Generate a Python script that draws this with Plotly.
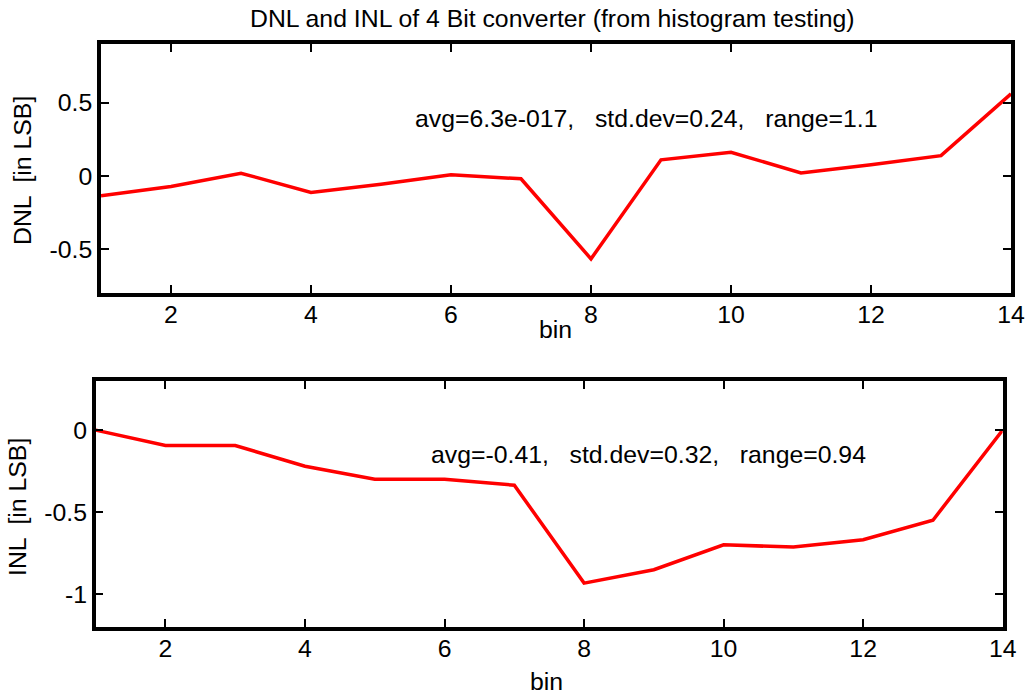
import plotly.graph_objects as go

# Histogram-test results for a 4 bit converter
bins = list(range(1, 15))
dnl = [-0.136, -0.073, 0.018, -0.113, -0.057, 0.007, -0.02,
       -0.567, 0.109, 0.161, 0.02, 0.075, 0.138, 0.56]
inl = [0.0, -0.094, -0.094, -0.22, -0.30, -0.30, -0.336,
       -0.934, -0.852, -0.70, -0.714, -0.669, -0.55, 0.0]

x_ticks = [2, 4, 6, 8, 10, 12, 14]
dnl_ticks = [0.5, 0, -0.5]
dnl_ticktext = ["0.5", "0", "-0.5"]
inl_ticks = [0, -0.5, -1]
inl_ticktext = ["0", "-0.5", "-1"]

title_text = "DNL and INL of 4 Bit converter (from histogram testing)"
sp = "\u00a0\u00a0\u00a0"
dnl_stats = f"avg=6.3e-017,{sp}std.dev=0.24,{sp}range=1.1"
inl_stats = f"avg=-0.41,{sp}std.dev=0.32,{sp}range=0.94"

W, H = 1028, 697
FONT = "Liberation Sans, Arial, sans-serif"
FS = 24.8

fig = go.Figure()
fig.add_trace(go.Scatter(x=bins, y=dnl, mode="lines",
                         line=dict(color="#ff0000", width=3.5),
                         xaxis="x", yaxis="y", showlegend=False))
fig.add_trace(go.Scatter(x=bins, y=inl, mode="lines",
                         line=dict(color="#ff0000", width=3.5),
                         xaxis="x2", yaxis="y2", showlegend=False))

def px_x(v):
    return v / W

def px_y(v):
    return 1 - v / H

axis_common = dict(
    showline=True, linecolor="black", linewidth=3.5, mirror="allticks",
    ticks="inside", ticklen=8, tickwidth=2, tickcolor="black",
    showgrid=False, zeroline=False, automargin=False,
    tickfont=dict(family=FONT, size=FS, color="black"),
)

fig.update_layout(
    template="none",
    width=W, height=H, autosize=False,
    margin=dict(l=0, r=0, t=0, b=0, pad=0),
    paper_bgcolor="white", plot_bgcolor="white",
    font=dict(family=FONT, size=FS, color="black"),
    xaxis=dict(domain=[px_x(101), px_x(1011)], range=[1, 14],
               tickvals=x_ticks, anchor="y", ticklabelstandoff=-4, **axis_common),
    yaxis=dict(domain=[px_y(293), px_y(44)], range=[-0.8, 0.9],
               tickvals=dnl_ticks, ticktext=dnl_ticktext, anchor="x", **axis_common),
    xaxis2=dict(domain=[px_x(95.7), px_x(1002.7)], range=[1, 14],
                tickvals=x_ticks, anchor="y2", ticklabelstandoff=-3, **axis_common),
    yaxis2=dict(domain=[px_y(626.7), px_y(381)], range=[-1.2, 0.3],
                tickvals=inl_ticks, ticktext=inl_ticktext, anchor="x2", **axis_common),
    annotations=[
        dict(text=title_text, xref="paper", yref="paper",
             x=px_x(552), y=px_y(19), xanchor="center", yanchor="middle",
             showarrow=False, font=dict(size=FS)),
        dict(text=dnl_stats, xref="x", yref="y", x=5.45, y=0.39,
             xanchor="left", yanchor="middle", showarrow=False),
        dict(text=inl_stats, xref="x2", yref="y2", x=5.78, y=-0.15,
             xanchor="left", yanchor="middle", showarrow=False),
        dict(text="DNL  [in LSB]", xref="paper", yref="paper",
             x=px_x(22), y=px_y(171), textangle=-90,
             xanchor="center", yanchor="middle", showarrow=False),
        dict(text="bin", xref="paper", yref="paper",
             x=px_x(555), y=px_y(329), xanchor="center", yanchor="middle",
             showarrow=False),
        dict(text="INL  [in LSB]", xref="paper", yref="paper",
             x=px_x(17), y=px_y(507), textangle=-90,
             xanchor="center", yanchor="middle", showarrow=False),
        dict(text="bin", xref="paper", yref="paper",
             x=px_x(546), y=px_y(681), xanchor="center", yanchor="middle",
             showarrow=False),
    ],
)

fig.write_html("out.html", config={"responsive": False})
